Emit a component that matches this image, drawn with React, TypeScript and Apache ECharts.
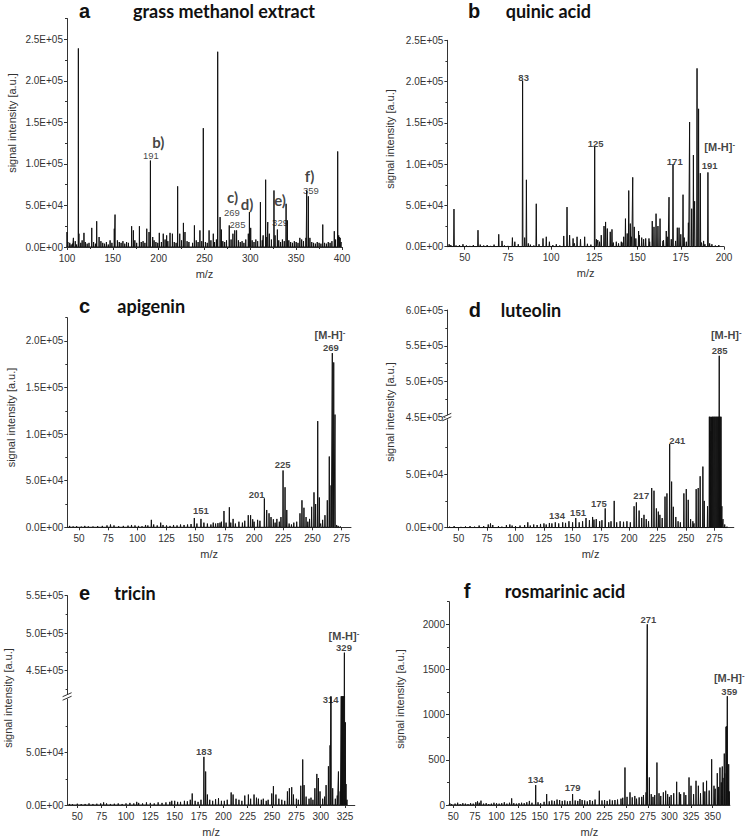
import React, { useEffect, useRef } from "react";
import * as echarts from "echarts";

type P = [number, number];
type L = [number, number, string, string];

// ---------- panel a : grass methanol extract ----------
const peaksA: P[] = [[100,18000],[107,11000],[112.4,239000],[113,16000],[118.5,17000],[127,23000],[132.4,31000],[135,12000],[147,8000],[151.6,22000],[152.4,39000],[170.5,25000],[172.4,20000],[179,25000],[187,22000],[189.5,18000],[191,104000],[193.5,12000],[200.7,17000],[205,16000],[208.7,14000],[212.4,17000],[215,16000],[220.7,73000],[223,16000],[227,29000],[228.7,18000],[239,26000],[245,20000],[248.7,143000],[255,20000],[259.6,16000],[264.4,235000],[267,36000],[268.4,21000],[277,26000],[281,16000],[283,20000],[285,20000],[297.8,16000],[299,42000],[300.4,23000],[311,54000],[314,14000],[316.7,81000],[319,30000],[320.7,16000],[325.8,68000],[327,14000],[329.5,21000],[339,52000],[340.4,32000],[354,11000],[360.7,11000],[361.5,68000],[363.3,61000],[365,11000],[379,27000],[391.6,19000],[395.3,115000],[396.4,14000],[398,11000]];
const noiseA: P[] = [[101,6000],[103,5000],[104.5,3000],[106,4000],[109,7000],[110.5,3000],[115,5000],[116.5,8000],[120,6000],[122,4000],[124,5000],[129,6000],[131,4000],[137,7000],[139,5000],[141,4000],[143,6000],[145,3000],[149,5000],[155,8000],[157,6000],[159,5000],[161,7000],[163,4000],[165,6000],[167,5000],[174,8000],[176,5000],[181,6000],[183,7000],[185,5000],[195,8000],[197,6000],[199,5000],[203,6000],[207,9000],[210,7000],[217,6000],[219,5000],[225,8000],[231,7000],[233,6000],[237,5000],[241,8000],[243,6000],[247,7000],[251,6000],[253,5000],[257,8000],[261,6000],[263,9000],[270,7000],[272,6000],[274,8000],[279,9000],[287,8000],[289,6000],[291,7000],[293,5000],[295,9000],[302,8000],[304,6000],[306,9000],[308,7000],[313,8000],[318,12000],[323,9000],[331,8000],[333,6000],[335,9000],[337,7000],[342,8000],[344,6000],[346,5000],[348,7000],[350,6000],[352,5000],[356,9000],[358,7000],[367,6000],[369,5000],[371,4000],[373,6000],[375,5000],[377,4000],[381,5000],[383,4000],[385,6000],[387,5000],[389,7000],[393,9000],[397,12000],[399,6000]];
const labelsA: L[] = [[199.6,126000,"b)","letter"],[191.6,109900,"191","num"],[280.5,60000,"c)","letter"],[279.8,42000,"269","num"],[296.5,51800,"d)","letter"],[286,27000,"285","num"],[332.4,56500,"e)","letter"],[332.4,29800,"329","num"],[364.5,85000,"f)","letter"],[366,68200,"359","num"]];
const xTicksA = [100,150,200,250,300,350,400];
const xMinorA = [125,175,225,275,325,375];
const yTicksA = [0,50000,100000,150000,200000,250000];
const yMinorA = [25000,75000,125000,175000,225000,275000];

// ---------- panel b : quinic acid ----------
const peaksB: P[] = [[43.8,45600],[57.7,20000],[69.7,15000],[71.6,7000],[77.6,11000],[79,6000],[83.5,201000],[84.7,11000],[85.7,81000],[86.8,4000],[91.4,52000],[95.3,10000],[97.2,12000],[99,6000],[107.3,13000],[109.2,48000],[110.7,14000],[112.7,10000],[115,12000],[117,9000],[119.4,12000],[125.2,121000],[126.2,9000],[129,14000],[130.6,25000],[131.5,30000],[132.5,22000],[134.2,18000],[135.2,21000],[137.7,6000],[140.6,6000],[142,12000],[143,34000],[144,16000],[144.9,68000],[145.8,28000],[147.2,84000],[148.1,24000],[150.6,19000],[152.4,11000],[154.7,10000],[156.6,10000],[158.5,31000],[159.5,24000],[160.7,40000],[161.8,25000],[163,34000],[164.7,7000],[166.6,19000],[168.2,60000],[170.5,100000],[172,7000],[173,23000],[174,23000],[176.3,63000],[178.2,6000],[179.4,29000],[180.1,151000],[181.3,46000],[182.3,111000],[183,55000],[184.4,216000],[185.3,167000],[186.3,89000],[188.2,7000],[190.7,90000],[191.7,4000]];
const noiseB: P[] = [[41,3000],[42,2000],[45,1500],[47,2000],[49,3000],[51,1500],[53,1000],[55,2000],[59,2500],[61,1500],[63,2000],[65,1000],[67,2500],[73,1500],[75,1000],[81,3000],[88,2500],[90,1500],[93,3000],[101,2000],[103,3000],[105,1500],[113.5,4000],[121,3500],[123,2500],[127,8000],[128,6000],[136,5000],[139,4000],[141,5000],[146.5,12000],[149,10000],[151,14000],[153.5,9000],[157,6000],[165,8000],[167.5,12000],[169.5,9000],[175,15000],[177,11000],[187,5000],[189,3000],[193,3000],[195,1500],[197,2000]];
const labelsB: L[] = [[84.1,205000,"83","bnum"],[125.8,125200,"125","bnum"],[171.5,103000,"171","bnum"],[197.5,121000,"ion","ion"],[191.7,98000,"191","bnum"]];
const xTicksB = [50,75,100,125,150,175,200];
const yTicksB = [0,50000,100000,150000,200000,250000];
const yMinorB = [25000,75000,125000,175000,225000];

// ---------- panel c : apigenin ----------
const peaksC: P[] = [[112,8000],[120,5000],[148.8,10000],[154.5,9000],[167,4000],[170.8,5000],[174.2,17500],[178.8,21500],[182,9000],[195,13000],[197,13000],[198.8,8600],[208.8,31000],[210.8,18600],[212.8,15000],[214.5,11000],[216.5,8600],[221.6,6000],[223,11000],[224.8,61000],[226.5,43000],[228,18600],[236.5,6000],[239.3,15000],[241,29000],[242.7,21000],[244.5,11000],[249.3,22000],[251.3,37500],[252.7,25000],[254.5,114000],[255.9,32000],[258.7,8000],[260.7,13000],[262.7,29000],[264.4,76000],[265.9,45000],[267,187000],[268.2,177000],[269.3,121000],[270.7,2500]];
const noiseC: P[] = [[42,1500],[45,1000],[48,1200],[52,800],[55,1500],[58,1000],[62,900],[66,1200],[70,1500],[74,2000],[77,3000],[80,2000],[84,1200],[88,1500],[92,1800],[95,2500],[98,2000],[101,1500],[104,1200],[107,2500],[109,2000],[114,3000],[117,2000],[122,2500],[125,2000],[128,1500],[131,2500],[134,2000],[137,3000],[140,2500],[143,3000],[146,3500],[151,4000],[157,5000],[160,4000],[163,3000],[165,5000],[169,4500],[172,6000],[176,5000],[180,5000],[184,4000],[187,6000],[190,5000],[192,7000],[200,6000],[203,8000],[205,7000],[218,5000],[219.5,9000],[230,4000],[232,3000],[234,5000],[246,6000],[247.5,9000],[257,4000],[272,1500],[274,800]];
const labelsC: L[] = [[154.5,17800,"151","bnum"],[202.2,35400,"201","bnum"],[224.5,67900,"225","bnum"],[265.8,192800,"269","bnum"],[265,206400,"ion","ion"]];
const xTicksC = [50,75,100,125,150,175,200,225,250,275];
const yTicksC = [0,50000,100000,150000,200000];
const yMinorC = [25000,75000,125000,175000,225000];

// ---------- panel d : luteolin (broken axis) ----------
const peaksD: P[] = [[110.8,5000],[129.8,4400],[141.5,5000],[150.2,5000],[153,9000],[162,9000],[167.8,10000],[169,7500],[178.9,18000],[186.8,25000],[204.3,20000],[206.3,23600],[208.7,16000],[219.8,37000],[221.8,34500],[223.9,18000],[225.6,15000],[231.5,29000],[233.2,32000],[235.6,78000],[237.3,43000],[238.8,19500],[248.1,32000],[250.2,36000],[251.9,26000],[258.9,36000],[260.7,37000],[262.4,48000],[264.8,57000],[266,25000],[268.9,20000],[270.5,150000],[271.3,300000],[272,90000],[272.8,400000],[273.6,250000],[274.4,420000],[275.2,300000],[276,440000],[276.8,350000],[277.6,400000],[278.4,300000],[279.2,536000],[280,400000],[280.8,200000],[281.5,20000],[282.5,8000]];
const noiseD: P[] = [[42,1000],[46,1500],[52,800],[56,1200],[60,1500],[64,1000],[68,2000],[72,1500],[76,3000],[78,4000],[80,2500],[85,1500],[88,1000],[92,2500],[95,3000],[97,2000],[100,1500],[104,2000],[108,2500],[113,2000],[116,3000],[119,2500],[122,3500],[125,4000],[127,3000],[132,4000],[135,5000],[138,4000],[144,4500],[147,6000],[156,5000],[159,6000],[165,7000],[171,8000],[174,6000],[176,7000],[182,5000],[184,6000],[189,5000],[192,6000],[195,5500],[198,6000],[201,5000],[211,9000],[213,12000],[215,8000],[217,6000],[227,12000],[229,9000],[241,10000],[243,6000],[245,5000],[254,8000],[256,6000],[257,4000],[284,3000],[286,1000]];
const labelsDLow: L[] = [[136.5,11800,"134","bnum"],[155,14300,"151","bnum"],[173.4,22700,"175","bnum"],[210.6,30400,"217","bnum"],[242.3,81600,"241","bnum"]];
const labelsDUp: L[] = [[279.6,544000,"285","bnum"],[285.4,565000,"ion","ion"]];
const xTicksD = [50,75,100,125,150,175,200,225,250,275];
const yTicksDLow = [0,50000];
const yMinorDLow = [25000,75000];
const yTicksDUp = [450000,500000,550000,600000];
const yMinorDUp = [475000,525000,575000];

// ---------- panel e : tricin (broken axis) ----------
const peaksE: P[] = [[111,3000],[150,4000],[168,11000],[180,46000],[181.8,32000],[183.6,10000],[195,6500],[198,4000],[208,12000],[210,10000],[222,9000],[225.7,10000],[231.5,10000],[236,6000],[249.7,11000],[251.4,18000],[254,10000],[265.8,13000],[267.8,16000],[270.2,17000],[272,10000],[279.5,18400],[281.5,43500],[282.9,19000],[285,8000],[294,16000],[296,29700],[297.6,25800],[299.3,13000],[305.5,19000],[307.9,37000],[309.6,57000],[310.6,200000],[312.3,16000],[318.2,32000],[320,13000],[321.2,150000],[322,300000],[322.8,250000],[323.5,350000],[324.3,474000],[325.3,79000],[326,20000],[327,5000]];
const noiseE: P[] = [[42,1000],[45,800],[50,1200],[54,900],[58,1000],[62,1500],[66,1000],[70,1200],[74,1500],[77,2500],[80,1500],[84,1000],[88,1200],[92,1500],[96,1000],[100,1500],[104,2000],[108,1500],[113,2000],[117,1500],[121,2500],[125,2000],[129,1500],[133,2500],[137,2000],[141,2500],[145,3000],[147,4000],[153,3000],[156,3000],[160,4000],[163,3500],[166,5000],[171,4000],[174,3000],[177,5000],[186,5000],[189,4000],[192,5500],[201,4000],[204,5000],[213,6000],[216,5000],[219,4000],[228,6000],[234,7000],[239,5000],[241,6000],[244,4000],[246,5000],[257,6000],[260,5000],[263,4000],[275,6000],[277,5000],[288,6000],[290,7000],[292,5000],[302,6000],[304,8000],[315,6000],[317,9000]];
const labelsELow: L[] = [[180.1,50900,"183","bnum"],[310.2,101000,"314","bnum"]];
const labelsEUp: L[] = [[323.9,481000,"329","bnum"],[323.9,496000,"ion","ion"]];
const xTicksE = [50,75,100,125,150,175,200,225,250,275,300,325];
const yTicksELow = [0,50000];
const yMinorELow = [25000,75000];
const yTicksEUp = [450000,500000,550000];
const yMinorEUp = [425000,475000,525000];

// ---------- panel f : rosmarinic acid ----------
const peaksF: P[] = [[82,48],[117.5,73],[145.3,220],[158,121],[188,121],[196.5,66],[218.9,158],[248.6,415],[254.4,140],[265,84],[273,140],[274.4,2000],[276.8,305],[285.6,470],[293,140],[295.7,158],[308.4,257],[311.5,140],[316.9,140],[322.7,305],[325,213],[330.8,268],[333.5,213],[339.2,250],[343,268],[348.9,506],[351.6,213],[355.4,352],[358.5,415],[361.2,426],[363.5,569],[365.5,866],[366.2,870],[367,1204],[368.6,451]];
const noiseF: P[] = [[46,20],[48,10],[52,15],[55,25],[58,10],[61,20],[64,15],[67,10],[70,20],[73,15],[76,30],[78,40],[80,25],[85,15],[88,20],[91,10],[94,15],[97,25],[100,20],[103,15],[106,20],[109,30],[112,15],[115,25],[120,20],[123,15],[126,20],[129,25],[132,20],[135,30],[138,45],[141,25],[148,30],[151,20],[155,35],[161,40],[164,50],[167,45],[170,60],[173,55],[176,45],[179,50],[182,40],[185,45],[191,50],[194,45],[199,55],[202,50],[205,40],[208,55],[211,45],[214,60],[222,50],[225,55],[228,45],[231,60],[234,50],[237,55],[240,60],[244,70],[246,80],[251,90],[257,85],[260,100],[262,70],[268,90],[270,110],[279,120],[281,90],[283,110],[288,130],[290,100],[298,120],[300,90],[302,110],[305,130],[313,120],[319,110],[328,120],[336,130],[341,150],[346,160],[353,180],[357,200],[360,250],[362,300],[364,350],[369.3,150]];
const labelsF: L[] = [[145.2,286,"134","bnum"],[188,191,"179","bnum"],[275.6,2055,"271","bnum"],[369.3,1405,"ion","ion"],[369.3,1258,"359","bnum"]];
const xTicksF = [50,75,100,125,150,175,200,225,250,275,300,325,350];
const yTicksF = [0,500,1000,1500,2000];
const yMinorF = [250,750,1250,1750,2250];

const FONT = "'Liberation Sans', Arial, sans-serif";
const TFONT = "Lato, 'Open Sans', sans-serif";
const AX = "#333";

function fmtExp(v: number): string {
  const [m, e] = v.toExponential(1).split("e");
  const sign = e[0] === "-" ? "-" : "+";
  return m + "E" + sign + e.replace(/[+-]/, "").padStart(2, "0");
}

function stickLine(peaks: P[], noise: P[], hw: number, x0: number): P[] {
  const all = [...peaks, ...noise].sort((p, q) => p[0] - q[0]);
  const out: P[] = [[x0, 0]];
  for (let i = 0; i < all.length; i++) {
    const [m, h] = all[i];
    const prev = i > 0 ? all[i - 1][0] : -Infinity;
    const next = i < all.length - 1 ? all[i + 1][0] : Infinity;
    out.push([Math.max(m - hw, (prev + m) / 2), 0], [m, h], [Math.min(m + hw, (m + next) / 2), 0]);
  }
  return out;
}

function labelItem(l: L) {
  const [m, v, t, kind] = l;
  let label: any;
  if (kind === "ion") {
    label = {
      formatter: "{a|[M-H]}{s|-}",
      rich: {
        a: { fontSize: 11, fontWeight: "bold", fontFamily: FONT, color: "#111", lineHeight: 13 },
        s: { fontSize: 8, fontWeight: "bold", fontFamily: FONT, color: "#111", verticalAlign: "top", lineHeight: 13 },
      },
    };
  } else if (kind === "letter") {
    label = { formatter: t, fontSize: 15, fontWeight: "bold", fontFamily: TFONT, color: "#111", lineHeight: 14 };
  } else if (kind === "num") {
    label = { formatter: t, fontSize: 9.5, fontFamily: FONT, color: "#111", lineHeight: 10 };
  } else {
    label = { formatter: t, fontSize: 9.5, fontWeight: "bold", fontFamily: FONT, color: "#111" };
  }
  return { value: [m, v], label: { show: true, position: "inside", ...label } };
}

function buildOption() {
  const grid: any[] = [];
  const xAxis: any[] = [];
  const yAxis: any[] = [];
  const series: any[] = [];

  function addGrid(r: any, xMin: number, xMax: number, xTicks: number[] | null, xMinor: number[] | null,
                   yMin: number, yMax: number, yTicks: number[], yMinor: number[], fmt: (v: number) => string,
                   xName: boolean) {
    grid.push({ left: r.left, top: r.top, width: r.width, height: r.height });
    const gi = grid.length - 1;
    const xi = xAxis.length;
    if (xTicks) {
      xAxis.push({
        type: "value", gridIndex: gi, min: xMin, max: xMax, position: "bottom",
        axisLine: { show: true, onZero: false, lineStyle: { color: AX, width: 1 } },
        axisTick: { show: true, length: 3, customValues: xTicks, lineStyle: { color: AX } },
        axisLabel: { customValues: xTicks, fontSize: 10, color: "#333", fontFamily: FONT, margin: 6 },
        splitLine: { show: false },
        name: xName ? "m/z" : "", nameLocation: "middle", nameGap: 21,
        nameTextStyle: { fontSize: 11, color: "#333", fontFamily: FONT },
      });
      if (xMinor) {
        xAxis.push({
          type: "value", gridIndex: gi, min: xMin, max: xMax, position: "bottom",
          axisLine: { show: false }, axisLabel: { show: false }, splitLine: { show: false },
          axisTick: { show: true, length: 2, customValues: xMinor, lineStyle: { color: AX } },
        });
      }
    } else {
      xAxis.push({ type: "value", gridIndex: gi, min: xMin, max: xMax, show: false });
    }
    const yi = yAxis.length;
    yAxis.push({
      type: "value", gridIndex: gi, min: yMin, max: yMax, position: "left",
      axisLine: { show: true, onZero: false, lineStyle: { color: AX, width: 1 } },
      axisTick: { show: true, length: 3, customValues: yTicks, lineStyle: { color: AX } },
      axisLabel: { customValues: yTicks, fontSize: 10, color: "#333", fontFamily: FONT, margin: 4, formatter: fmt },
      splitLine: { show: false },
    });
    yAxis.push({
      type: "value", gridIndex: gi, min: yMin, max: yMax, position: "left",
      axisLine: { show: false }, axisLabel: { show: false }, splitLine: { show: false },
      axisTick: { show: true, length: 2, customValues: yMinor, lineStyle: { color: AX } },
    });
    return { xi, yi };
  }

  function addSpectrum(ax: any, data: P[]) {
    series.push({
      type: "line", xAxisIndex: ax.xi, yAxisIndex: ax.yi, data, symbol: "none", silent: true,
      lineStyle: { width: 1, color: "#111" }, clip: true, z: 2,
    });
  }
  function addLabels(ax: any, labels: L[]) {
    series.push({
      type: "scatter", xAxisIndex: ax.xi, yAxisIndex: ax.yi, symbolSize: 0, silent: true, clip: false, z: 5,
      data: labels.map(labelItem),
    });
  }

  // a
  const gA = addGrid({ left: 67, top: 18.5, width: 275, height: 228.5 }, 100, 400, xTicksA, xMinorA,
    0, 275000, yTicksA, yMinorA, fmtExp, true);
  addSpectrum(gA, stickLine(peaksA, noiseA, 0.2, 100));
  addLabels(gA, labelsA);

  // b
  const gB = addGrid({ left: 447.4, top: 40.3, width: 276.6, height: 206.4 }, 40, 200, xTicksB, null,
    0, 250000, yTicksB, yMinorB, fmtExp, true);
  addSpectrum(gB, stickLine(peaksB, noiseB, 0.2, 40));
  addLabels(gB, labelsB);

  // c
  const gC = addGrid({ left: 67.3, top: 317.7, width: 283.7, height: 209.6 }, 40, 283, xTicksC, null,
    0, 225000, yTicksC, yMinorC, fmtExp, true);
  addSpectrum(gC, stickLine(peaksC, noiseC, 0.25, 40));
  addLabels(gC, labelsC);

  // d
  const dataD = stickLine(peaksD, noiseD, 0.25, 40);
  const gDL = addGrid({ left: 447.3, top: 417.3, width: 286.5, height: 110.4 }, 40, 292, xTicksD, null,
    0, 103000, yTicksDLow, yMinorDLow, fmtExp, true);
  addSpectrum(gDL, dataD);
  addLabels(gDL, labelsDLow);
  const gDU = addGrid({ left: 447.3, top: 310, width: 286.5, height: 107.3 }, 40, 292, null, null,
    450000, 600000, yTicksDUp, yMinorDUp, fmtExp, false);
  addSpectrum(gDU, dataD);
  addLabels(gDU, labelsDUp);

  // e
  const dataE = stickLine(peaksE, noiseE, 0.25, 40);
  const gEL = addGrid({ left: 67.6, top: 696.7, width: 287.2, height: 110.3 }, 40, 335, xTicksE, null,
    0, 103500, yTicksELow, yMinorELow, fmtExp, true);
  addSpectrum(gEL, dataE);
  addLabels(gEL, labelsELow);
  const gEU = addGrid({ left: 67.6, top: 595.7, width: 287.2, height: 101 }, 40, 335, null, null,
    415300, 550000, yTicksEUp, yMinorEUp, fmtExp, false);
  addSpectrum(gEU, dataE);
  addLabels(gEU, labelsEUp);

  // f
  const gF = addGrid({ left: 449, top: 601.7, width: 280.9, height: 204.3 }, 45, 370, xTicksF, null,
    0, 2250, yTicksF, yMinorF, (v: number) => String(v), true);
  addSpectrum(gF, stickLine(peaksF, noiseF, 0.3, 45));
  addLabels(gF, labelsF);

  // graphic: titles, y-axis names, axis breaks
  const titles: [number, number, number, string, string][] = [
    [79, 133, 11, "a", "grass methanol extract"],
    [468, 505.7, 11, "b", "quinic acid"],
    [79, 117.3, 306, "c", "apigenin"],
    [468.7, 500.7, 309.5, "d", "luteolin"],
    [79, 114.3, 593, "e", "tricin"],
    [463.7, 504.7, 591, "f", "rosmarinic acid"],
  ];
  const graphic: any[] = [];
  titles.forEach(([lx, tx, y, letter, name]) => {
    graphic.push({ type: "text", x: lx, y, z: 100, style: { text: letter, font: `bold 20px ${FONT}`, fill: "#111", align: "left", verticalAlign: "middle" } });
    graphic.push({ type: "text", x: tx, y, z: 100, style: { text: name, font: `bold 18px ${TFONT}`, fill: "#111", align: "left", verticalAlign: "middle" } });
  });
  const ynames: [number, number][] = [[12, 123], [389.7, 139], [10.5, 417.5], [389.7, 412], [8, 698], [399.7, 699]];
  ynames.forEach(([x, y]) => {
    graphic.push({ type: "text", x, y, rotation: Math.PI / 2, z: 100,
      style: { text: "signal intensity [a.u.]", font: `11px ${FONT}`, fill: "#333", align: "center", verticalAlign: "middle" } });
  });
  const breaks: [number, number][] = [[447.3, 417.3], [67.6, 696.7]];
  breaks.forEach(([x, y]) => {
    graphic.push({ type: "rect", z: 100, shape: { x: x - 2, y: y - 2, width: 4, height: 4 }, style: { fill: "#fff" } });
    graphic.push({ type: "line", z: 101, shape: { x1: x - 5, y1: y, x2: x + 4, y2: y - 4 }, style: { stroke: "#333", lineWidth: 1 } });
    graphic.push({ type: "line", z: 101, shape: { x1: x - 5, y1: y + 3.5, x2: x + 4, y2: y - 0.5 }, style: { stroke: "#333", lineWidth: 1 } });
  });

  return { animation: false, backgroundColor: "#fff", grid, xAxis, yAxis, series, graphic };
}

export default function App() {
  const ref = useRef<HTMLDivElement>(null);
  useEffect(() => {
    document.body.style.margin = "0";
    const chart = echarts.init(ref.current!, null, { renderer: "svg" });
    chart.setOption(buildOption() as any);
    return () => chart.dispose();
  }, []);
  return <div ref={ref} style={{ width: 746, height: 838 }} />;
}
